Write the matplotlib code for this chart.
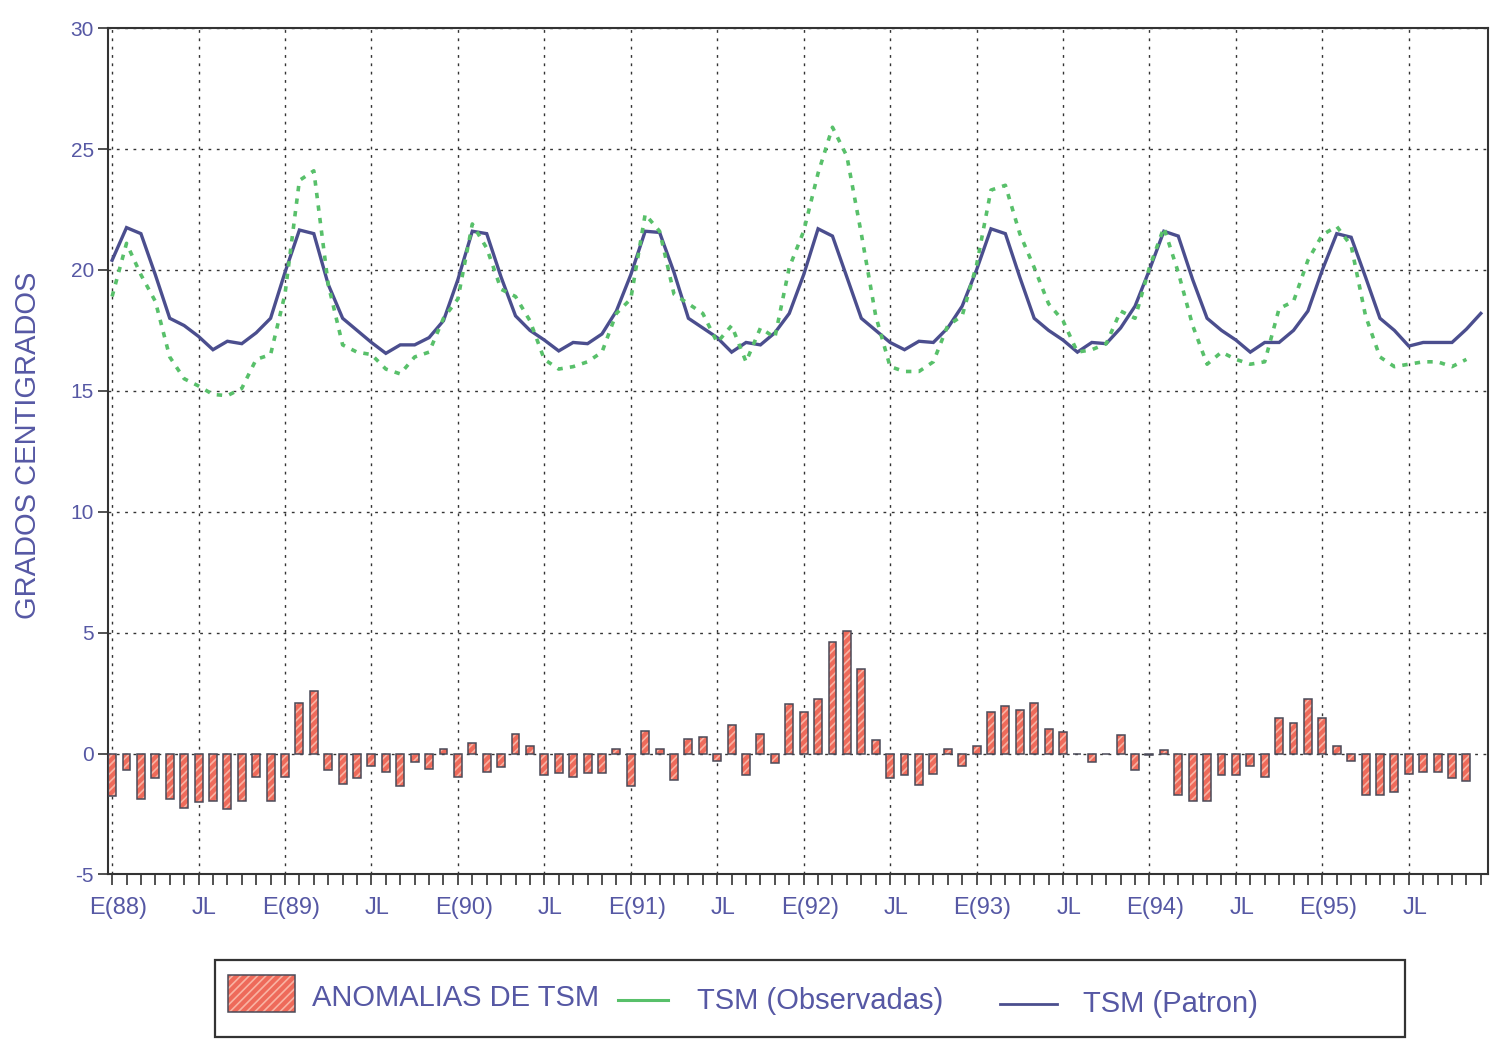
import matplotlib
matplotlib.use("Agg")
import matplotlib.pyplot as plt
import matplotlib.font_manager as fm
import matplotlib.transforms as mtransforms
from matplotlib.patches import Rectangle
from matplotlib.lines import Line2D
import numpy as np

# ---------------- data (monthly, Jan 1988 - Dec 1995) ----------------
patron_1988 = [20.4, 21.75, 21.5, 19.8, 18.0, 17.7, 17.25, 16.7, 17.05, 16.95, 17.4, 18.0]
patron_1989 = [19.9, 21.65, 21.5, 19.4, 18.0, 17.5, 17.0, 16.55, 16.9, 16.9, 17.2, 17.9]
patron_1990 = [19.6, 21.6, 21.5, 19.7, 18.1, 17.5, 17.1, 16.65, 17.0, 16.95, 17.35, 18.3]
patron_1991 = [19.8, 21.6, 21.55, 19.9, 18.0, 17.6, 17.2, 16.6, 17.0, 16.9, 17.4, 18.2]
patron_1992 = [19.8, 21.7, 21.4, 19.7, 18.0, 17.5, 17.0, 16.7, 17.05, 17.0, 17.6, 18.5]
patron_1993 = [20.0, 21.7, 21.5, 19.7, 18.0, 17.5, 17.1, 16.6, 17.0, 16.95, 17.6, 18.5]
patron_1994 = [20.0, 21.6, 21.4, 19.6, 18.0, 17.5, 17.1, 16.6, 17.0, 17.0, 17.5, 18.3]
patron_1995 = [20.0, 21.5, 21.35, 19.7, 18.0, 17.5, 16.85, 17.0, 17.0, 17.0, 17.55, 18.2]

obs_1988 = [18.9, 21.1, 19.8, 18.7, 16.4, 15.5, 15.2, 14.85, 14.8, 15.1, 16.3, 16.5]
obs_1989 = [19.0, 23.7, 24.1, 19.4, 16.9, 16.6, 16.5, 15.9, 15.7, 16.4, 16.6, 18.0]
obs_1990 = [18.8, 21.9, 20.9, 19.2, 18.9, 17.9, 16.3, 15.9, 16.0, 16.2, 16.6, 18.2]
obs_1991 = [18.8, 22.3, 21.6, 19.0, 18.6, 18.2, 17.0, 17.7, 16.2, 17.6, 17.2, 20.1]
obs_1992 = [21.6, 24.0, 25.9, 24.7, 21.5, 18.1, 16.0, 15.8, 15.8, 16.2, 17.7, 18.1]
obs_1993 = [20.2, 23.3, 23.5, 21.5, 20.1, 18.6, 17.9, 16.6, 16.7, 16.95, 18.3, 18.0]
obs_1994 = [20.1, 21.75, 19.9, 17.7, 16.1, 16.6, 16.3, 16.1, 16.2, 18.4, 18.7, 20.4]
obs_1995 = [21.45, 21.8, 21.0, 18.1, 16.4, 16.0, 16.1, 16.2, 16.2, 16.0, 16.3]

anom_1988 = [-1.75, -0.7, -1.9, -1.0, -1.9, -2.25, -2.0, -1.95, -2.3, -1.95, -0.95, -1.95]
anom_1989 = [-0.95, 2.1, 2.6, -0.7, -1.25, -1.0, -0.5, -0.75, -1.35, -0.35, -0.65, 0.2]
anom_1990 = [-0.95, 0.45, -0.75, -0.55, 0.8, 0.3, -0.9, -0.8, -0.95, -0.8, -0.8, 0.2]
anom_1991 = [-1.35, 0.95, 0.2, -1.1, 0.6, 0.7, -0.3, 1.2, -0.9, 0.8, -0.4, 2.05]
anom_1992 = [1.7, 2.25, 4.6, 5.05, 3.5, 0.55, -1.0, -0.9, -1.3, -0.85, 0.2, -0.5]
anom_1993 = [0.3, 1.7, 1.95, 1.8, 2.1, 1.0, 0.9, 0.0, -0.35, 0.0, 0.75, -0.7]
anom_1994 = [-0.05, 0.15, -1.7, -1.95, -1.95, -0.9, -0.9, -0.5, -0.95, 1.45, 1.25, 2.25]
anom_1995 = [1.45, 0.3, -0.3, -1.7, -1.7, -1.6, -0.85, -0.75, -0.75, -1.0, -1.15]

tick_labels = ["E(88)", "JL", "E(89)", "JL", "E(90)", "JL", "E(91)", "JL",
               "E(92)", "JL", "E(93)", "JL", "E(94)", "JL", "E(95)", "JL"]
y_ticks = [-5, 0, 5, 10, 15, 20, 25, 30]

patron = np.array(patron_1988 + patron_1989 + patron_1990 + patron_1991 +
                  patron_1992 + patron_1993 + patron_1994 + patron_1995)
observed = np.array(obs_1988 + obs_1989 + obs_1990 + obs_1991 +
                    obs_1992 + obs_1993 + obs_1994 + obs_1995)
anomalies = np.array(anom_1988 + anom_1989 + anom_1990 + anom_1991 +
                     anom_1992 + anom_1993 + anom_1994 + anom_1995)
months_p = np.arange(len(patron))
months_o = np.arange(len(observed))
months_a = np.arange(len(anomalies))

# ---------------- style ----------------
available = {f.name for f in fm.fontManager.ttflist}
if "Liberation Sans Narrow" in available:
    FONT = ["Liberation Sans Narrow", "DejaVu Sans"]
else:
    FONT = ["Liberation Sans", "DejaVu Sans"]
plt.rcParams["font.family"] = FONT
plt.rcParams["hatch.linewidth"] = 1.2
plt.rcParams["axes.unicode_minus"] = False

TXT = "#5658a4"
BAR = "#ee6a5a"
HATCH = "#f9b3a3"
EDGE = "#4a4a58"
BLUE = "#4b4e8e"
GREEN = "#58c06a"
GRID = "#333333"

fig = plt.figure(figsize=(14.97, 10.41), dpi=100)
ax = fig.add_axes([0.072, 0.160, 0.922, 0.813])

ax.set_xlim(-0.3, 95.5)
ax.set_ylim(-5, 30)

ax.set_yticks(y_ticks)
ax.set_xticks(np.arange(0, 96, 6))
ax.set_xticks(np.arange(0, 96), minor=True)
ax.set_xticklabels(tick_labels)
ax.grid(True, which="major", color=GRID, linestyle=(0, (2, 4)), linewidth=1.0, zorder=1)
ax.set_axisbelow(True)

# bars (hatched fill + dark outline)
ax.bar(months_a, anomalies, width=0.55, color=BAR, edgecolor=HATCH, hatch="////",
       linewidth=0, zorder=2)
ax.bar(months_a, anomalies, width=0.55, fill=False, edgecolor=EDGE, linewidth=1.1, zorder=3)

# lines
ax.plot(months_p, patron, color=BLUE, lw=2.4, zorder=4, solid_joinstyle="miter")
ax.plot(months_o, observed, color=GREEN, lw=2.6, linestyle=(0, (1.5, 2.0)), zorder=5)

for sp in ax.spines.values():
    sp.set_color(GRID)
    sp.set_linewidth(1.5)

ax.tick_params(axis="x", which="both", direction="out", length=8, width=1.2, color=GRID)
ax.tick_params(axis="x", which="major", labelsize=17, labelcolor=TXT, pad=8)
ax.tick_params(axis="y", direction="out", length=7, width=1.2, color=GRID,
               labelsize=15, labelcolor=TXT, pad=3)
offset = mtransforms.ScaledTranslation(6 / 100, 0, fig.dpi_scale_trans)
for lab in ax.get_xticklabels():
    lab.set_transform(lab.get_transform() + offset)

fig.text(0.019, 0.5725, "GRADOS CENTIGRADOS", rotation=90, ha="center", va="center",
         fontsize=21, color=TXT)

# ---------------- legend box ----------------
fig.add_artist(Rectangle((0.1436, 0.004), 0.795, 0.074, transform=fig.transFigure,
                         fill=False, edgecolor=GRID, linewidth=1.6))
fig.add_artist(Rectangle((0.1523, 0.028), 0.0448, 0.0355, transform=fig.transFigure,
                         facecolor=BAR, edgecolor=HATCH, hatch="////", linewidth=0))
fig.add_artist(Rectangle((0.1523, 0.028), 0.0448, 0.0355, transform=fig.transFigure,
                         fill=False, edgecolor=EDGE, linewidth=1.1))
fig.text(0.2084, 0.0413, "ANOMALIAS DE TSM", ha="left", va="center", fontsize=21, color=TXT)
fig.add_artist(Line2D([0.4128, 0.4462], [0.0394, 0.0394], transform=fig.transFigure,
                      color=GREEN, lw=2.2))
fig.text(0.4656, 0.0385, "TSM (Observadas)", ha="left", va="center", fontsize=21, color=TXT)
fig.add_artist(Line2D([0.668, 0.706], [0.0355, 0.0355], transform=fig.transFigure,
                      color=BLUE, lw=2.0))
fig.text(0.7234, 0.0355, "TSM (Patron)", ha="left", va="center", fontsize=21, color=TXT)

fig.savefig("out.png", dpi=100)
